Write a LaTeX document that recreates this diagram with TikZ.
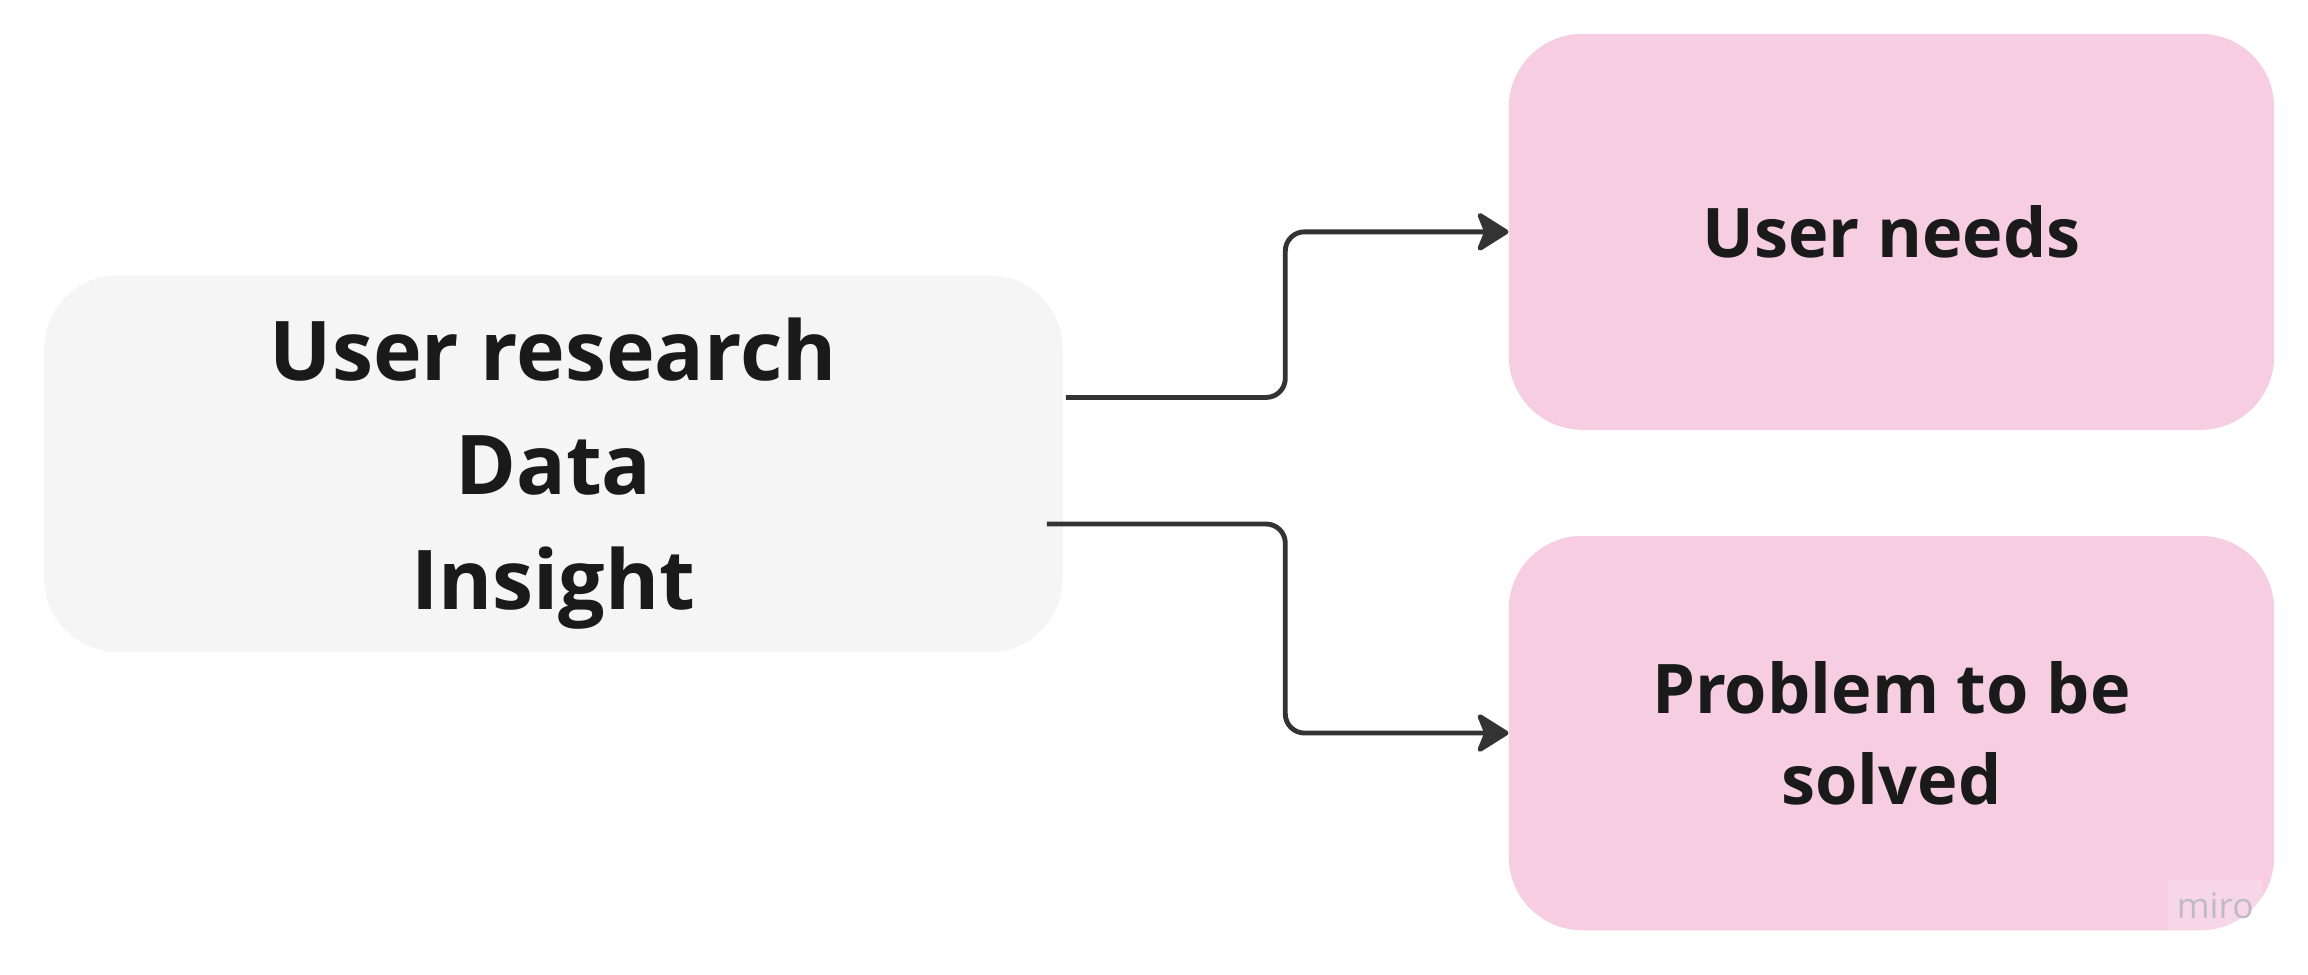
\documentclass[tikz,border=0pt]{standalone}
\usepackage{fontspec}
\setmainfont{Open Sans}
\usetikzlibrary{arrows.meta}
\definecolor{boxgray}{HTML}{F5F5F5}
\definecolor{notepink}{HTML}{F6CDE1}
\definecolor{inkdark}{HTML}{1A1A1A}
\definecolor{linkgray}{HTML}{333333}
\definecolor{markgray}{HTML}{C0BAC8}

\begin{document}
\begin{tikzpicture}[x=1pt, y=-1pt,
		card/.style={rounded corners=50pt, inner sep=0pt, align=center, text=inkdark},
		link/.style={draw=linkgray, line width=3.3pt, rounded corners=13pt, -{Stealth[length=24pt, width=30pt, inset=6pt, round]}}]
			\useasboundingbox (0,0) rectangle (1568,662);
			% source box
			\node[card, fill=boxgray, minimum width=692pt, minimum height=256pt, text depth=0pt, font=\bfseries\fontsize{56}{78}\selectfont] (research) at (376,315) {User research\\Data\\Insight};
			% outcome boxes
			\node[card, fill=notepink, minimum width=520pt, minimum height=269pt, font=\bfseries\fontsize{46.5}{62}\selectfont] (needs) at (1285,157.5) {User needs};
			\node[card, fill=notepink, minimum width=520pt, minimum height=268pt, font=\bfseries\fontsize{46.5}{62}\selectfont] (problem) at (1285,498) {Problem to be\\solved};
			% connectors
			\draw[link] ([xshift=2pt, yshift=45pt]research.east) -- ++(149,0) |- (needs.west);
			\draw[link] ([xshift=-11pt, yshift=-41pt]research.east) -- ++(162,0) |- (problem.west);
			\node[fill=white, fill opacity=0.2, text opacity=1, text=markgray, font=\fontsize{24}{26}\selectfont, minimum width=64pt, minimum height=34pt] (miro) at (1505,615) {miro};
		\end{tikzpicture}
\end{document}
